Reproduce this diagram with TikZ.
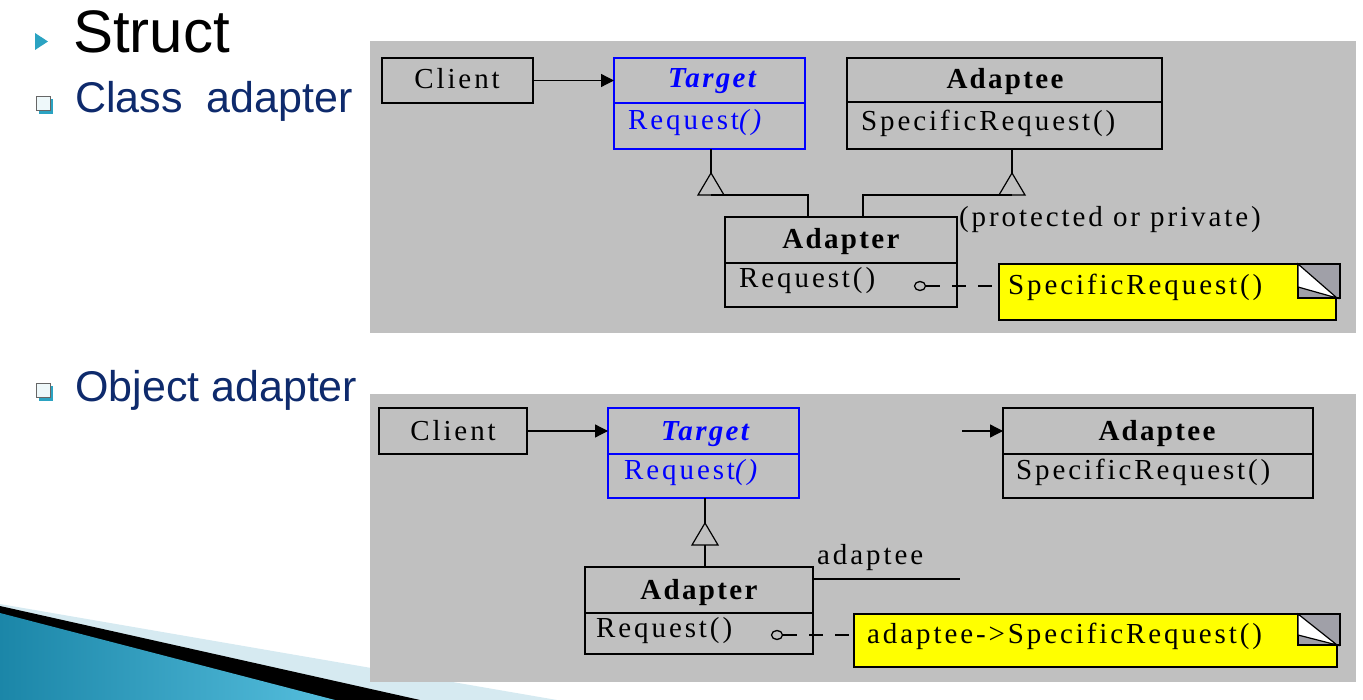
\documentclass[tikz,border=0pt]{standalone}
\usepackage{fontspec}
\setmainfont{Liberation Serif}
\newfontfamily\titlefont{Liberation Sans}
\usetikzlibrary{arrows.meta,calc,shapes.geometric}
\definecolor{panelgray}{HTML}{C0C0C0}
\definecolor{navyblue}{HTML}{0E2A6C}
\definecolor{bulletteal}{HTML}{2BA3C2}
\definecolor{umlblue}{HTML}{0000FF}
\definecolor{noteyellow}{HTML}{FFFF00}
\definecolor{foldgray}{HTML}{A0A0A8}
\definecolor{swooshlight}{HTML}{D6EAF1}
\definecolor{swooshdark}{HTML}{1B86A8}
\definecolor{swooshbright}{HTML}{55BEDD}
\begin{document}
\begin{tikzpicture}[x=1pt,y=-1pt,
  umlbox/.style={draw, line width=1.4pt, inner sep=0pt, outer sep=0pt, anchor=north west, rectangle},
  bluebox/.style={umlbox, draw=umlblue},
  utext/.style={inner sep=0pt, font=\fontsize{29}{31}\selectfont\addfontfeature{LetterSpace=10}},
  btext/.style={inner sep=0pt, font=\fontsize{29}{31}\selectfont\bfseries\addfontfeature{LetterSpace=8}},
  titext/.style={inner sep=0pt, font=\fontsize{29}{31}\selectfont\bfseries\itshape\addfontfeature{LetterSpace=8}, text=umlblue},
  conn/.style={line width=1.3pt},
  assoc/.style={conn, -{Triangle[length=13pt,width=13pt]}},
  tri/.style={line width=1.2pt},
  dashlink/.style={line width=1.3pt, dash pattern=on 14pt off 12pt},
  pin/.style={ellipse, draw, line width=1.3pt, minimum width=11pt, minimum height=9pt, inner sep=0pt},
  notebody/.style={umlbox, fill=noteyellow},
  heading/.style={inner sep=0pt, anchor=base west, font=\titlefont\fontsize{43}{45}\selectfont, text=navyblue}
]
\useasboundingbox (0,0) rectangle (1363,700);
% swoosh
\fill[swooshlight] (0,604) -- (557,700) -- (0,700) -- cycle;
\fill[black] (0,606) -- (420,700) -- (0,700) -- cycle;
\shade[left color=swooshdark, right color=swooshbright] (0,613) -- (335,700) -- (0,700) -- cycle;
% panels
\fill[panelgray] (370,41) rectangle (1356,333);
\fill[panelgray] (370,394) rectangle (1356,682);
% headings
\fill[bulletteal] (35,33) -- (48,41.5) -- (35,50) -- cycle;
\node[inner sep=0pt, anchor=base west, font=\titlefont\fontsize{60}{62}\selectfont] (title) at (73,53) {Struct};
\fill[bulletteal] (39,99) rectangle (53,114);
\filldraw[fill=white!92!bulletteal, draw=gray!80!black, line width=0.8pt] (36,96) rectangle (50,110);
\node[heading] (h1) at (75,113) {Class\ \ adapter};
\fill[bulletteal] (39,386) rectangle (53,401);
\filldraw[fill=white!92!bulletteal, draw=gray!80!black, line width=0.8pt] (36,383) rectangle (50,397);
\node[heading] (h2) at (75,402) {Object adapter};

% ===== Class adapter =====
\node[umlbox, minimum width=151pt, minimum height=45pt] (client) at (382,58) {};
\node[utext, anchor=base] (clientT) at (457,89) {Client};
\node[bluebox, minimum width=191pt, minimum height=45pt] (targetH) at (614,58) {};
\node[bluebox, minimum width=191pt, minimum height=46pt] (targetB) at (614,103) {};
\node[titext, anchor=base] (targetT) at (712,88) {Target};
\node[utext, anchor=base west, text=umlblue] (targetR) at (628,130) {Request\textit{()}};
\node[umlbox, minimum width=315pt, minimum height=44pt] (adapteeH) at (847,58) {};
\node[umlbox, minimum width=315pt, minimum height=47pt] (adapteeB) at (847,102) {};
\node[btext, anchor=base] (adapteeT) at (1005,89) {Adaptee};
\node[utext, anchor=base west] (adapteeR) at (861,131) {SpecificRequest()};
\node[umlbox, minimum width=232pt, minimum height=46pt] (adapterH) at (725,217) {};
\node[umlbox, minimum width=232pt, minimum height=44pt] (adapterB) at (725,263) {};
\node[btext, anchor=base] (adapterT) at (841,249) {Adapter};
\node[utext, anchor=base west] (adapterR) at (739,288) {Request()};
\node[utext, anchor=base west] (prot) at (959,227) {(protected or private)};
% note 1
\node[notebody, minimum width=337pt, minimum height=56pt] (note1) at (999,264) {};
\filldraw[fill=foldgray, line width=1.4pt] (1298,264) rectangle (1340,298);
\filldraw[fill=white, draw=black, line width=1.2pt] (1298,264) -- (1298,287) -- (1337,298) -- cycle;
\node[utext, anchor=base west] (note1T) at (1008,295) {SpecificRequest()};
% connectors
\draw[assoc] (client.east) -- (client.east -| targetH.west);
\coordinate (i1) at ($(targetB.south west)+(97,24)$);
\coordinate (i1b) at ($(i1)+(0,22)$);
\draw[conn] (i1 |- targetB.south) -- (i1);
\draw[tri] (i1) -- ++(-13,22) -- ++(26,0) -- cycle;
\draw[conn] (i1b) -| ($(adapterH.north west)+(83,0)$);
\coordinate (i2) at ($(adapteeB.south west)+(165,24)$);
\coordinate (i2b) at ($(i2)+(0,22)$);
\draw[conn] (i2 |- adapteeB.south) -- (i2);
\draw[tri] (i2) -- ++(-13,22) -- ++(26,0) -- cycle;
\draw[conn] (i2b) -| ($(adapterH.north west)+(138,0)$);
\node[pin] (pin1) at (920,286) {};
\draw[dashlink] (pin1.east) -- (pin1.east -| note1.west);

% ===== Object adapter =====
\node[umlbox, minimum width=148pt, minimum height=46pt] (client2) at (379,408) {};
\node[utext, anchor=base] (client2T) at (453,440) {Client};
\node[bluebox, minimum width=191pt, minimum height=46pt] (targetH2) at (608,408) {};
\node[bluebox, minimum width=191pt, minimum height=44pt] (targetB2) at (608,454) {};
\node[titext, anchor=base] (target2T) at (705,440) {Target};
\node[utext, anchor=base west, text=umlblue] (target2R) at (624,479) {Request\textit{()}};
\node[umlbox, minimum width=310pt, minimum height=46pt] (adapteeH2) at (1003,408) {};
\node[umlbox, minimum width=310pt, minimum height=44pt] (adapteeB2) at (1003,454) {};
\node[btext, anchor=base] (adaptee2T) at (1157,440) {Adaptee};
\node[utext, anchor=base west] (adaptee2R) at (1016,479) {SpecificRequest()};
\node[umlbox, minimum width=228pt, minimum height=46pt] (adapterH2) at (585,567) {};
\node[umlbox, minimum width=228pt, minimum height=41pt] (adapterB2) at (585,613) {};
\node[btext, anchor=base] (adapter2T) at (699,599) {Adapter};
\node[utext, anchor=base west] (adapter2R) at (596,637) {Request()};
% note 2
\node[notebody, minimum width=483pt, minimum height=53pt] (note2) at (854,614) {};
\filldraw[fill=foldgray, line width=1.4pt] (1298,614) rectangle (1340,645);
\filldraw[fill=white, draw=black, line width=1.2pt] (1298,614) -- (1298,635) -- (1337,645) -- cycle;
\node[utext, anchor=base west] (note2T) at (867,643) {adaptee->SpecificRequest()};
% connectors
\draw[assoc] (client2.east) -- (client2.east -| targetH2.west);
\coordinate (i3) at ($(targetB2.south west)+(97,25)$);
\coordinate (i3b) at ($(i3)+(0,22)$);
\draw[conn] (i3 |- targetB2.south) -- (i3);
\draw[tri] (i3) -- ++(-13,22) -- ++(26,0) -- cycle;
\draw[conn] (i3b) -- (i3b |- adapterH2.north);
\coordinate (assocEnd) at (960,579);
\draw[conn] (assocEnd -| adapterH2.east) -- (assocEnd);
\node[utext, anchor=base west] (roleT) at (817,564) {adaptee};
\coordinate (arrStart) at (962,431);
\draw[assoc] (arrStart) -- (adapteeH2.west);
\node[pin] (pin2) at (777,635) {};
\draw[dashlink] (pin2.east) -- (pin2.east -| note2.west);
\end{tikzpicture}
\end{document}
